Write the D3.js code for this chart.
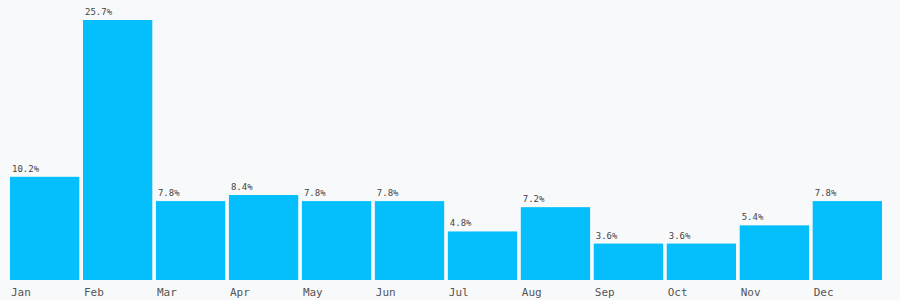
<!DOCTYPE html>
<html><head><meta charset="utf-8">
<script src="https://cdn.jsdelivr.net/npm/d3@7"></script>
<style>html,body{margin:0;padding:0;background:#f8f9fb;}svg{display:block;}</style>
</head><body>
<svg id="c" width="900" height="300"></svg>
<script>
const months = ["Jan","Feb","Mar","Apr","May","Jun","Jul","Aug","Sep","Oct","Nov","Dec"];
const values = [10.2,25.7,7.8,8.4,7.8,7.8,4.8,7.2,3.6,3.6,5.4,7.8];

const svg = d3.select("#c");
const x = d3.scaleBand().domain(months).range([10, 882]).paddingInner(0.05).paddingOuter(0);
const y = d3.scaleLinear().domain([0, d3.max(values)]).range([280, 20]);
const data = months.map((m,i)=>({m, v: values[i]}));

svg.append("rect").attr("width",900).attr("height",300).attr("fill","#f8f9fb");

svg.selectAll("rect.bar").data(data).join("rect").attr("class","bar")
  .attr("x", d=>x(d.m)).attr("width", x.bandwidth())
  .attr("y", d=>y(d.v)).attr("height", d=>y(0)-y(d.v))
  .attr("fill","#04bffb");

svg.selectAll("text.val").data(data).join("text").attr("class","val")
  .attr("x", d=>x(d.m)+2).attr("y", d=>y(d.v)-5)
  .attr("font-family","DejaVu Sans Mono, monospace").attr("font-size",9)
  .attr("fill","#444").text(d=>d.v.toFixed(1)+"%");

svg.selectAll("text.lab").data(data).join("text").attr("class","lab")
  .attr("x", d=>x(d.m)+1).attr("y", 296)
  .attr("font-family","DejaVu Sans Mono, monospace").attr("font-size",11)
  .attr("fill","#555").text(d=>d.m);
</script>
</body></html>
